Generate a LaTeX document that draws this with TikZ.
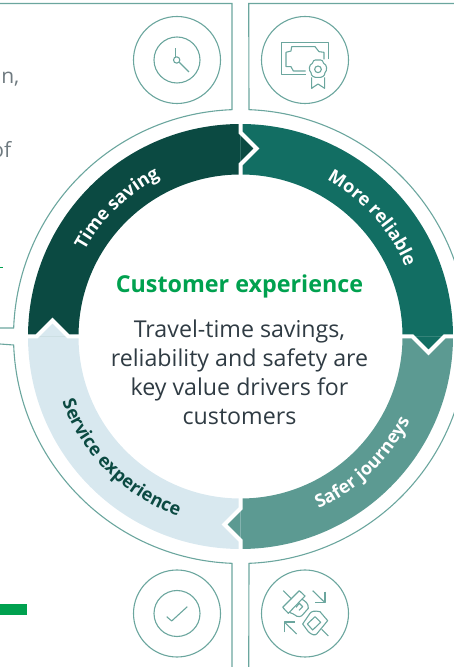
\documentclass[tikz,border=0pt]{standalone}
\usepackage{fontspec}
\setmainfont{Open Sans}
\usetikzlibrary{decorations.text}
\definecolor{segA}{HTML}{0B4A42}
\definecolor{segB}{HTML}{126E63}
\definecolor{segC}{HTML}{5C9A92}
\definecolor{segD}{HTML}{D8E8EF}
\definecolor{thin}{HTML}{6BA69E}
\definecolor{brandgreen}{HTML}{00A14F}
\definecolor{bodyink}{HTML}{2F3B43}
\definecolor{sideink}{HTML}{6F7A80}
\tikzset{
  thinline/.style={draw=thin,line width=1.1pt},
  iconline/.style={draw=thin,line width=1.1pt,line join=round},
  seam/.style={draw=white,line width=4pt,line join=miter,miter limit=10},
  bandtext/.style={decorate,decoration={text along path,text align=center,text={#1}}},
  bodytext/.style={font=\fontsize{23.2}{29}\selectfont,text=bodyink,align=center},
}
\newcommand{\whiteband}{\color{white}\fontsize{18}{20}\selectfont\bfseries}
\newcommand{\darkband}{\color{segA}\fontsize{18}{20}\selectfont\bfseries}
\begin{document}
\begin{tikzpicture}[x=1pt,y=1pt]
\useasboundingbox (0,0) rectangle (454,667);
\clip (0,0) rectangle (454,667);
\coordinate (C) at (240.5,330.5);
% segments
\fill[segA] ([shift={(180:212.5pt)}]C) arc (180:90:212.5pt) -- ([shift={(90:162pt)}]C) arc (90:180:162pt) -- cycle;
\fill[segB] ([shift={(90:212.5pt)}]C) arc (90:0:212.5pt) -- ([shift={(0:162pt)}]C) arc (0:90:162pt) -- cycle;
\fill[segC] ([shift={(0:212.5pt)}]C) arc (0:-90:212.5pt) -- ([shift={(-90:162pt)}]C) arc (-90:0:162pt) -- cycle;
\fill[segD] ([shift={(-90:212.5pt)}]C) arc (-90:-180:212.5pt) -- ([shift={(-180:162pt)}]C) arc (-180:-90:162pt) -- cycle;
% chevron tips
\fill[segA] ([shift={(0,204)}]C) -- ([shift={(16,188)}]C) -- ([shift={(0,172)}]C) -- cycle;
\fill[segB] ([shift={(204,0)}]C) -- ([shift={(188,-16)}]C) -- ([shift={(172,0)}]C) -- cycle;
\fill[segC] ([shift={(0,-204)}]C) -- ([shift={(-16,-188)}]C) -- ([shift={(0,-172)}]C) -- cycle;
\fill[segD] ([shift={(-204,0)}]C) -- ([shift={(-188,16)}]C) -- ([shift={(-172,0)}]C) -- cycle;
% seams
\draw[seam] ([shift={(0,214)}]C) -- ([shift={(0,204)}]C) -- ([shift={(16,188)}]C) -- ([shift={(0,172)}]C) -- ([shift={(0,160)}]C);
\draw[seam] ([shift={(214,0)}]C) -- ([shift={(204,0)}]C) -- ([shift={(188,-16)}]C) -- ([shift={(172,0)}]C) -- ([shift={(160,0)}]C);
\draw[seam] ([shift={(0,-214)}]C) -- ([shift={(0,-204)}]C) -- ([shift={(-16,-188)}]C) -- ([shift={(0,-172)}]C) -- ([shift={(0,-160)}]C);
\draw[seam] ([shift={(-214,0)}]C) -- ([shift={(-204,0)}]C) -- ([shift={(-188,16)}]C) -- ([shift={(-172,0)}]C) -- ([shift={(-160,0)}]C);
% curved labels
\path[bandtext={|\whiteband|Time saving}] ([shift={(171:178pt)}]C) arc (171:97:178pt);
\path[bandtext={|\whiteband|More reliable}] ([shift={(83:179pt)}]C) arc (83:1:179pt);
\path[bandtext={|\whiteband|Safer journeys}] ([shift={(-90:189pt)}]C) arc (-90:-2:189pt);
\path[bandtext={|\darkband|Service experience}] ([shift={(178:190pt)}]C) arc (178:273:190pt);
% panels
\draw[thinline] (0,663.5) -- (232,663.5) -- ([shift={(92.15:227pt)}]C) arc (92.15:177.85:227pt) -- (0,339);
\draw[thinline] (454,663.5) -- (248.7,663.5) -- ([shift={(87.85:227pt)}]C) arc (87.85:10:227pt);
\draw[thinline] (0,323) -- ([shift={(182.15:227pt)}]C) arc (182.15:267.85:227pt) -- (232,-2);
\draw[thinline] (248.7,-2) -- ([shift={(272.15:227pt)}]C) arc (272.15:350:227pt);
% centre text
\node[font=\fontsize{23.3}{28}\selectfont\bfseries,text=brandgreen] (title) at (239.5,381) {Customer experience};
\node[bodytext] (body) at (239.5,294.5) {Travel-time savings,\\reliability and safety are\\key value drivers for\\customers};
% side text and bar
\node[font=\fontsize{21}{25}\selectfont,text=sideink,anchor=base east,inner sep=0pt] (sidea) at (19.5,583) {on,};
\node[font=\fontsize{21}{25}\selectfont,text=sideink,anchor=base east,inner sep=0pt] (sideb) at (11.5,509) {of};
\fill[brandgreen] (0,52) rectangle (27,63);
\fill[brandgreen] (0,398.7) rectangle (2.5,400);
% icons, drawn in reference pixels
\begin{scope}[yshift=667pt,yscale=-1]
  \draw[thinline] (177,60) circle (43.5);
  \draw[thinline] (177,60) circle (23);
  \draw[thinline] (305,60) circle (43.5);
  \draw[thinline] (177,613.5) circle (43.5);
  \draw[thinline] (177,613.5) circle (23);
  \draw[thinline] (305,613.5) circle (43.5);
\end{scope}
% zoom 1 frame: 3 units per pixel from top left
\begin{scope}[yshift=667pt,xscale=1/3,yscale=-1/3]
  \draw[iconline] (530,180) circle (9.5);
  \draw[iconline] (527,145) -- (527,170);
  \draw[iconline] (538,187) -- (567,216);
  \draw[iconline] (985,178) -- (985,127) -- (845,127) -- (845,223) -- (917,223);
  \draw[iconline] (972,178) -- (972,157) -- (957,155) -- (945,140) -- (875,140) -- (873,153) -- (858,157) -- (858,200) -- (873,200) -- (880,213) -- (917,213);
  \draw[iconline,fill=white] (954,180) .. controls (965,178) and (972,184) .. (971,190)
     .. controls (982,194) and (982,212) .. (975,218) .. controls (975,228) and (965,234) .. (954,232)
     .. controls (943,234) and (933,228) .. (933,218) .. controls (926,212) and (926,194) .. (937,190)
     .. controls (936,184) and (943,178) .. cycle;
  \draw[iconline] (954,208) circle (10);
  \draw[iconline] (935,232) -- (935,265) -- (954,252) -- (974,265) -- (974,232);
\end{scope}
% zoom 2 frame: 3 units per pixel from (0,500)
\begin{scope}[yshift=167pt,xscale=1/3,yscale=-1/3]
  \draw[iconline] (500,350) -- (515,363) -- (562,320);
  \draw[iconline] (850,272) -- (875,297);
  \draw[iconline] (848,322) -- (898,272) -- (915,288) -- (865,340) -- cycle;
  \draw[iconline] (868,337) -- (880,342) .. controls (895,355) and (905,350) .. (910,342) -- (925,325) .. controls (925,310) and (918,305) .. (905,297);
  \draw[iconline] (888,322) -- (898,310) -- (908,320) -- (897,331);
  \draw[iconline] (908,372) -- (930,340) .. controls (935,333) and (945,332) .. (960,335) -- (983,362) -- (950,402) .. controls (945,407) and (935,405) .. (925,395) -- cycle;
  \draw[iconline] (922,372) -- (945,350) -- (962,367) -- (938,390) -- cycle;
  \draw[iconline] (965,388) -- (985,408);
  \draw[iconline] (938,272) -- (975,308);
  \draw[iconline] (975,275) -- (975,307) -- (945,307);
  \draw[iconline] (890,402) -- (853,366);
  \draw[iconline] (853,397) -- (853,366) -- (885,366);
\end{scope}
\end{tikzpicture}
\end{document}
